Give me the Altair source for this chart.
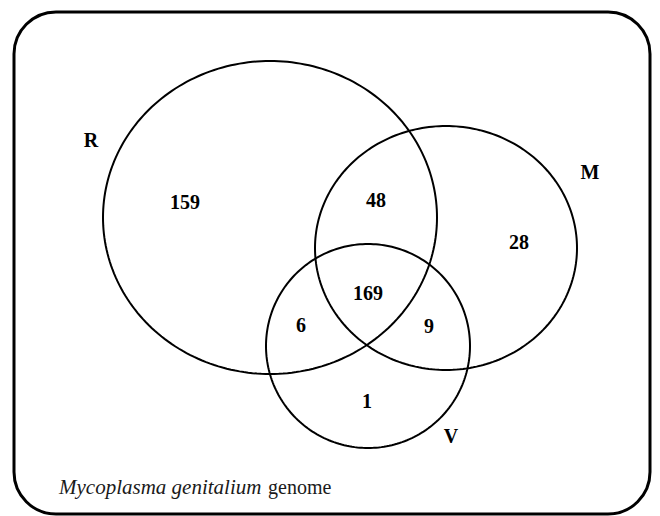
import numpy as np
import pandas as pd
import altair as alt

# --- data (page pixel coordinates) ---
set_names = ["R", "M", "V"]
set_cx = [270, 446, 368]
set_cy = [217.5, 248, 346]
set_rx = [167, 131, 102]
set_ry = [156.5, 122, 102]

label_text = ["R", "M", "V"]
label_x = [91, 590, 451]
label_y = [141, 173, 437]

count_text = ["159", "48", "28", "169", "6", "9", "1"]
count_x = [185, 376, 519, 368, 301, 429, 367]
count_y = [203, 201, 243, 294, 326, 327, 402]

frame_x = [14, 650]
frame_y = [12, 514]

caption_italic = "Mycoplasma genitalium"
caption_plain = "genome"
caption_x = [59, 268]
caption_y = 494

# --- chart geometry ---
W, H = 644, 508
xs = alt.Scale(domain=[8, 8 + W], nice=False, zero=False)
ys = alt.Scale(domain=[8 + H, 8], nice=False, zero=False)

# outlines of the sets (ellipses) from centre/radius values
t = np.linspace(0, 2 * np.pi, 241)
rows = []
for n, cx, cy, rx, ry in zip(set_names, set_cx, set_cy, set_rx, set_ry):
    for i, a in enumerate(t):
        rows.append({"set": n, "i": i, "x": cx + rx * np.cos(a), "y": cy + ry * np.sin(a)})
outline = pd.DataFrame(rows)

frame_df = pd.DataFrame({"x": [frame_x[0]], "x2": [frame_x[1]], "y": [frame_y[0]], "y2": [frame_y[1]]})
labels_df = pd.DataFrame({"t": label_text, "x": label_x, "y": label_y})
counts_df = pd.DataFrame({"t": count_text, "x": count_x, "y": count_y})
cap_it_df = pd.DataFrame({"t": [caption_italic], "x": [caption_x[0]], "y": [caption_y]})
cap_pl_df = pd.DataFrame({"t": [caption_plain], "x": [caption_x[1]], "y": [caption_y]})

frame = alt.Chart(frame_df).mark_rect(
    cornerRadius=42, fill="white", stroke="black", strokeWidth=3
).encode(
    x=alt.X("x:Q", scale=xs, axis=None), x2="x2:Q",
    y=alt.Y("y:Q", scale=ys, axis=None), y2="y2:Q",
)

circles = alt.Chart(outline).mark_line(color="black", strokeWidth=2).encode(
    x=alt.X("x:Q", scale=xs, axis=None),
    y=alt.Y("y:Q", scale=ys, axis=None),
    detail="set:N",
    order="i:Q",
)

font = "Times New Roman, Liberation Serif, serif"
labels = alt.Chart(labels_df).mark_text(
    font=font, fontSize=20, fontWeight="bold", align="center", baseline="middle", color="black"
).encode(x=alt.X("x:Q", scale=xs, axis=None), y=alt.Y("y:Q", scale=ys, axis=None), text="t:N")

counts = alt.Chart(counts_df).mark_text(
    font=font, fontSize=20, fontWeight="bold", align="center", baseline="middle", color="black"
).encode(x=alt.X("x:Q", scale=xs, axis=None), y=alt.Y("y:Q", scale=ys, axis=None), text="t:N")

cap_it = alt.Chart(cap_it_df).mark_text(
    font=font, fontSize=21, fontStyle="italic", align="left", baseline="alphabetic", color="#1a1a1a"
).encode(x=alt.X("x:Q", scale=xs, axis=None), y=alt.Y("y:Q", scale=ys, axis=None), text="t:N")

cap_pl = alt.Chart(cap_pl_df).mark_text(
    font=font, fontSize=20, align="left", baseline="alphabetic", color="#1a1a1a"
).encode(x=alt.X("x:Q", scale=xs, axis=None), y=alt.Y("y:Q", scale=ys, axis=None), text="t:N")

chart = alt.layer(frame, circles, labels, counts, cap_it, cap_pl).properties(
    width=W, height=H, padding=0, autosize=alt.AutoSizeParams(type="none")
).configure_view(stroke=None)

chart.save("out.html", embed_options={"renderer": "svg", "actions": False})
